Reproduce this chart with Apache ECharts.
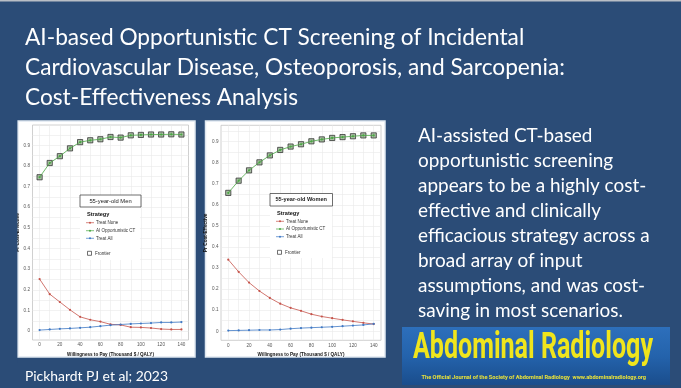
<!DOCTYPE html>
<html><head><meta charset="utf-8">
<script src="https://cdn.jsdelivr.net/npm/echarts@6/dist/echarts.min.js"></script>
<style>html,body{margin:0;padding:0;background:#2b4c77;overflow:hidden}#c{width:681px;height:388px}</style>
</head><body><div id="c"></div>
<script>
// ---------- data ----------
const wtp = [0,10,20,30,40,50,60,70,80,90,100,110,120,130,140];
const xTickLabels = [0,20,40,60,80,100,120,140];
const yTickLabels = [0,0.1,0.2,0.3,0.4,0.5,0.6,0.7,0.8,0.9];
const yGridValues = [0,0.05,0.1,0.15,0.2,0.25,0.3,0.35,0.4,0.45,0.5,0.55,0.6,0.65,0.7,0.75,0.8,0.85,0.9,0.95];
const strategies = ['Treat None','AI Opportunistic CT','Treat All'];

const menTreatNone = [0.252,0.179,0.141,0.103,0.069,0.055,0.046,0.033,0.030,0.019,0.018,0.015,0.010,0.008,0.008];
const menAICT      = [0.745,0.814,0.847,0.885,0.915,0.924,0.929,0.940,0.937,0.948,0.950,0.952,0.952,0.953,0.952];
const menTreatAll  = [0.005,0.008,0.011,0.013,0.016,0.019,0.024,0.029,0.032,0.035,0.037,0.039,0.042,0.042,0.044];

const womenTreatNone = [0.340,0.282,0.231,0.191,0.158,0.131,0.111,0.097,0.081,0.070,0.062,0.054,0.047,0.040,0.034];
const womenAICT      = [0.657,0.715,0.764,0.802,0.835,0.861,0.877,0.888,0.902,0.911,0.918,0.922,0.926,0.930,0.930];
const womenTreatAll  = [0.003,0.004,0.005,0.006,0.006,0.008,0.012,0.015,0.017,0.019,0.021,0.024,0.027,0.030,0.035];

const titleLines = ['AI-based Opportunistic CT Screening of Incidental','Cardiovascular Disease, Osteoporosis, and Sarcopenia:','Cost-Effectiveness Analysis'];
const bodyLines = ['AI-assisted CT-based','opportunistic screening','appears to be a highly cost-','effective and clinically','efficacious strategy across a','broad array of input','assumptions, and was cost-','saving in most scenarios.'];
const footer = 'Pickhardt PJ et al; 2023';
const journal = 'Abdominal Radiology';
const journalSub = 'The Official Journal of the Society of Abdominal Radiology  www.abdominalradiology.org';
const panelTitles = ['55-year-old Men','55-year-old Women'];

// ---------- helpers ----------
const COLORS = ['#c5534a','#4aa744','#3f78c4'];
const mctx = document.createElement('canvas').getContext('2d');
function fitSize(text, weight, family, width){
  mctx.font = weight + ' 100px ' + family;
  return 100*width/mctx.measureText(text).width;
}
function pairs(vals){ return vals.map((v,i)=>[wtp[i], v]); }

const TXT = 'Lato';
const titleSize = fitSize(titleLines[1],'normal',TXT,540);
const bodySize = fitSize(bodyLines[4],'normal',TXT,232);
const footSize = fitSize(footer,'normal',TXT,143);
const logoFontSize = 37;
mctx.font = 'bold 37px Roboto';
const logoScale = 240/mctx.measureText(journal).width;
const subSize = fitSize(journalSub,'bold','Roboto',225);

function txt(x,y,text,font,fill,align,z,extra){
  return Object.assign({type:'text', x:x, y:y, z:z||10, silent:true,
    style:{text:text, font:font, fill:fill, align:align||'left', textAlign:align||'left',
      verticalAlign:'middle', textVerticalAlign:'middle'}}, extra||{});
}

const graphics = [];
// background
graphics.push({type:'rect', z:-20, shape:{x:0,y:0,width:681,height:388}, style:{fill:'#2b4c77'}});
graphics.push({type:'rect', z:-19, shape:{x:0,y:0,width:681,height:1.5}, style:{fill:'#b9bec6'}});
// cards
graphics.push({type:'rect', z:-15, shape:{x:18,y:121,width:177,height:236}, style:{fill:'#ffffff', stroke:'#dfe8f1', lineWidth:1.5}});
graphics.push({type:'rect', z:-15, shape:{x:205.5,y:121,width:179.5,height:236}, style:{fill:'#ffffff', stroke:'#dfe8f1', lineWidth:1.5}});
// clip strip for men's y-title
graphics.push({type:'rect', z:60, shape:{x:0,y:118,width:17.2,height:245}, style:{fill:'#2b4c77'}});

// title
titleLines.forEach((t,i)=>graphics.push(txt(25, 38+30*i, t, 'normal '+titleSize.toFixed(2)+'px '+TXT, '#ffffff')));
// body text
bodyLines.forEach((t,i)=>graphics.push(txt(418, 136+25*i, t, 'normal '+bodySize.toFixed(2)+'px '+TXT, '#ffffff')));
// footer
graphics.push(txt(25, 376.5, footer, 'normal '+footSize.toFixed(2)+'px '+TXT, '#ffffff'));

// logo banner
graphics.push({type:'rect', z:5, shape:{x:402,y:327,width:268,height:58},
  style:{fill:new echarts.graphic.LinearGradient(0,0,0,1,[{offset:0,color:'#2d6fbb'},{offset:0.5,color:'#2463ac'},{offset:1,color:'#1a4d8c'}])}});
graphics.push(txt(413, 349, journal, 'bold '+logoFontSize+'px Roboto', '#f0e51c', 'left', 12, {scaleX:logoScale}));
graphics.push(txt(421.5, 377.5, journalSub, 'bold '+subSize.toFixed(2)+'px Roboto', '#e9e23a', 'left', 12));

// legends
function legend(o){
  const L = [];
  L.push({type:'rect', z:50, shape:{x:o.bx,y:o.by+o.bh,width:o.lw,height:o.lh}, style:{fill:'#ffffff'}});
  L.push({type:'rect', z:51, shape:{x:o.bx,y:o.by,width:o.bw,height:o.bh}, style:{fill:'#ffffff', stroke:'#4a4a4a', lineWidth:0.8}});
  L.push(txt(o.bx+o.bw/2, o.by+o.bh/2, o.title, o.titleFont, '#222', 'center', 52));
  L.push(txt(o.sx, o.sy, 'Strategy', 'bold 5.6px "Liberation Sans"', '#111', 'left', 52));
  strategies.forEach((s,i)=>{
    const y = o.iy[i];
    L.push({type:'line', z:52, shape:{x1:o.sx-1,y1:y,x2:o.sx+7,y2:y}, style:{stroke:COLORS[i], lineWidth:0.7}});
    L.push({type:'circle', z:53, shape:{cx:o.sx+3,cy:y,r:1}, style:{fill:COLORS[i]}});
    L.push(txt(o.sx+9, y, s, '4.5px "Liberation Sans"', '#333', 'left', 52));
  });
  L.push({type:'rect', z:52, shape:{x:o.sx+0.5,y:o.fy-2,width:4,height:4}, style:{fill:'#fff', stroke:'#333', lineWidth:0.7}});
  L.push(txt(o.sx+8, o.fy, 'Frontier', '4.5px "Liberation Sans"', '#333', 'left', 52));
  return L;
}
graphics.push(...legend({bx:80,by:195,bw:61,bh:12,lw:60,lh:53,title:panelTitles[0],titleFont:'5.8px "Liberation Sans"',
  sx:87, sy:214.3, iy:[222.7,230.7,238.3], fy:253.3}));
graphics.push(...legend({bx:270,by:193.5,bw:62.5,bh:12.5,lw:62,lh:52,title:panelTitles[1],titleFont:'bold 5.6px "Liberation Sans"',
  sx:277, sy:213, iy:[221.3,229,236.7], fy:252.3}));

// ---------- axes ----------
function xAx(gi){
  return {type:'value', gridIndex:gi, min:-7, max:147,
    axisLine:{show:false},
    axisTick:{show:false, customValues:wtp},
    axisLabel:{customValues:xTickLabels, fontSize:4.6, color:'#555', margin:2.5, fontFamily:'Liberation Sans'},
    splitLine:{show:true, lineStyle:{color:'#e9e9e9', width:0.6}},
    name:'Willingness to Pay (Thousand $ / QALY)', nameLocation:'middle', nameGap:9.5,
    nameTextStyle:{fontSize:4.6, fontWeight:'bold', color:'#111', fontFamily:'Liberation Sans'}};
}
function yAx(gi, min, max){
  return {type:'value', gridIndex:gi, min:min, max:max,
    axisLine:{show:false},
    axisTick:{show:false, customValues:yGridValues},
    axisLabel:{customValues:yTickLabels, fontSize:4.6, color:'#555', margin:2.5, fontFamily:'Liberation Sans',
      formatter:v=>String(Math.round(v*10)/10)},
    splitLine:{show:true, lineStyle:{color:'#e9e9e9', width:0.6}},
    name:'Pr Cost-Effective', nameLocation:'middle', nameGap:11.5, nameRotate:90,
    nameTextStyle:{fontSize:4.8, fontWeight:'bold', color:'#111', fontFamily:'Liberation Sans'}};
}

function seriesFor(gi, none, ai, all){
  const base = (name, data, ci) => ({type:'line', name:name, xAxisIndex:gi, yAxisIndex:gi, data:pairs(data),
    symbol:'circle', symbolSize:2.2, z:4, lineStyle:{color:COLORS[ci], width:0.8}, itemStyle:{color:COLORS[ci]},
    silent:true, animation:false});
  return [
    {type:'scatter', name:'Frontier', xAxisIndex:gi, yAxisIndex:gi, data:pairs(ai), symbol:'rect', symbolSize:5.2,
      z:3, itemStyle:{color:'rgba(95,135,85,0.65)', borderColor:'#262626', borderWidth:0.9}, silent:true, animation:false},
    base(strategies[0], none, 0),
    base(strategies[1], ai, 1),
    base(strategies[2], all, 2)
  ];
}

const chart = echarts.init(document.getElementById('c'), null, {renderer:'canvas', width:681, height:388});
chart.setOption({
  animation:false,
  backgroundColor:'#2b4c77',
  grid:[
    {left:32.5, top:125, width:156, height:215, show:true, backgroundColor:'#ffffff', borderColor:'#c4c4c4', borderWidth:0.8},
    {left:221, top:125.3, width:160, height:215, show:true, backgroundColor:'#ffffff', borderColor:'#c4c4c4', borderWidth:0.8}
  ],
  xAxis:[xAx(0), xAx(1)],
  yAxis:[yAx(0,-0.043,0.998), yAx(1,-0.043,0.978)],
  series:[].concat(seriesFor(0, menTreatNone, menAICT, menTreatAll), seriesFor(1, womenTreatNone, womenAICT, womenTreatAll)),
  graphic:{elements:graphics}
});
</script></body></html>
